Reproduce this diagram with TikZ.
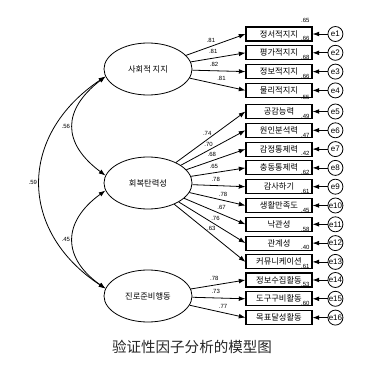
\documentclass[tikz,border=0pt]{standalone}
\usepackage{fontspec}
\setmainfont{Liberation Sans}
\newfontfamily\krfont{Noto Sans CJK KR}
\newfontfamily\zhfont{Noto Sans CJK SC}
\usetikzlibrary{arrows.meta,positioning,shapes.geometric}

\begin{document}
\begin{tikzpicture}[x=0.75pt,y=-0.75pt,>={Latex[length=5pt,width=3.6pt]},
    node distance=2.8pt,line width=0.6pt,
    latent/.style={draw,ellipse,minimum width=66pt,minimum height=39pt,inner sep=0pt,
      font=\krfont\fontsize{6.2}{7}\selectfont},
    item/.style={draw,line width=0.8pt,minimum width=49.5pt,minimum height=10.5pt,inner sep=0pt,
      font=\krfont\fontsize{6.2}{7}\selectfont},
    err/.style={draw,circle,minimum size=11.25pt,inner sep=0pt,font=\fontsize{6}{7}\selectfont},
    coef/.style={inner sep=0.8pt,font=\fontsize{4.5}{5}\selectfont},
    rsq/.style={coef,anchor=south east,inner sep=0pt}]
  \useasboundingbox (0,0) rectangle (380,368);

  % latent factors
  \node[latent] (soc) at (148,69)  {사회적 지지};
  \node[latent] (res) at (148,183) {회복탄력성};
  \node[latent] (car) at (148,296) {진로준비행동};

  % indicators
  \node[item] (b1) at (279,34) {정서적지지};
  \node[item,below=of b1] (b2) {평가적지지};
  \node[item,below=of b2] (b3) {정보적지지};
  \node[item,below=of b3] (b4) {물리적지지};
  \node[item] (b5) at (279,111.5) {공감능력};
  \node[item,below=of b5] (b6) {원인분석력};
  \node[item,below=of b6] (b7) {감정통제력};
  \node[item,below=of b7] (b8) {충동통제력};
  \node[item,below=of b8] (b9) {감사하기};
  \node[item,below=of b9] (b10) {생활만족도};
  \node[item,below=of b10] (b11) {낙관성};
  \node[item,below=of b11] (b12) {관계성};
  \node[item,below=of b12] (b13) {커뮤니케이션};
  \node[item] (b14) at (279,280) {정보수집활동};
  \node[item,below=of b14] (b15) {도구구비활동};
  \node[item,below=of b15] (b16) {목표달성활동};

  % errors
  \node[err,right=11.25pt of b1] (e1) {e1};
  \node[err,right=11.25pt of b2] (e2) {e2};
  \node[err,right=11.25pt of b3] (e3) {e3};
  \node[err,right=11.25pt of b4] (e4) {e4};
  \node[err,right=11.25pt of b5] (e5) {e5};
  \node[err,right=11.25pt of b6] (e6) {e6};
  \node[err,right=11.25pt of b7] (e7) {e7};
  \node[err,right=11.25pt of b8] (e8) {e8};
  \node[err,right=11.25pt of b9] (e9) {e9};
  \node[err,right=11.25pt of b10] (e10) {e10};
  \node[err,right=11.25pt of b11] (e11) {e11};
  \node[err,right=11.25pt of b12] (e12) {e12};
  \node[err,right=11.25pt of b13] (e13) {e13};
  \node[err,right=11.25pt of b14] (e14) {e14};
  \node[err,right=11.25pt of b15] (e15) {e15};
  \node[err,right=11.25pt of b16] (e16) {e16};

  % squared multiple correlations
  \node[rsq] (r1) at ([xshift=-2pt,yshift=3pt]b1.north east) {.65};
  \node[rsq] (r2) at ([xshift=-2pt,yshift=3pt]b2.north east) {.66};
  \node[rsq] (r3) at ([xshift=-2pt,yshift=3pt]b3.north east) {.68};
  \node[rsq] (r4) at ([xshift=-2pt,yshift=3pt]b4.north east) {.66};
  \node[rsq] (r5) at ([xshift=-2pt,yshift=3pt]b5.north east) {.55};
  \node[rsq] (r6) at ([xshift=-2pt,yshift=3pt]b6.north east) {.49};
  \node[rsq] (r7) at ([xshift=-2pt,yshift=3pt]b7.north east) {.47};
  \node[rsq] (r8) at ([xshift=-2pt,yshift=3pt]b8.north east) {.42};
  \node[rsq] (r9) at ([xshift=-2pt,yshift=3pt]b9.north east) {.62};
  \node[rsq] (r10) at ([xshift=-2pt,yshift=3pt]b10.north east) {.61};
  \node[rsq] (r11) at ([xshift=-2pt,yshift=3pt]b11.north east) {.45};
  \node[rsq] (r12) at ([xshift=-2pt,yshift=3pt]b12.north east) {.58};
  \node[rsq] (r13) at ([xshift=-2pt,yshift=3pt]b13.north east) {.40};
  \node[rsq] (r14) at ([xshift=-2pt,yshift=3pt]b14.north east) {.61};
  \node[rsq] (r15) at ([xshift=-2pt,yshift=3pt]b15.north east) {.53};
  \node[rsq] (r16) at ([xshift=-2pt,yshift=3pt]b16.north east) {.60};

  % loadings
  \draw[->] (soc) -- node[coef,pos=0.42,above=2pt]{.81} (b1.west);
  \draw[->] (soc) -- node[coef,pos=0.41,above=2pt]{.81} (b2.west);
  \draw[->] (soc) -- node[coef,pos=0.41,above=2pt]{.82} (b3.west);
  \draw[->] (soc) -- node[coef,pos=0.57,above=2pt]{.81} (b4.west);
  \draw[->] (res) -- node[coef,pos=0.45,above=2pt]{.74} (b5.west);
  \draw[->] (res) -- node[coef,pos=0.43,above=2pt]{.70} (b6.west);
  \draw[->] (res) -- node[coef,pos=0.43,above=2pt]{.68} (b7.west);
  \draw[->] (res) -- node[coef,pos=0.42,above=2pt]{.65} (b8.west);
  \draw[->] (res) -- node[coef,pos=0.44,above=2pt]{.78} (b9.west);
  \draw[->] (res) -- node[coef,pos=0.60,above=2pt]{.78} (b10.west);
  \draw[->] (res) -- node[coef,pos=0.61,above=2pt]{.67} (b11.west);
  \draw[->] (res) -- node[coef,pos=0.55,above=2pt]{.76} (b12.west);
  \draw[->] (res) -- node[coef,pos=0.52,above=2pt]{.63} (b13.west);
  \draw[->] (car) -- node[coef,pos=0.43,above=2pt]{.78} (b14.west);
  \draw[->] (car) -- node[coef,pos=0.44,above=2pt]{.73} (b15.west);
  \draw[->] (car) -- node[coef,pos=0.60,above=2pt]{.77} (b16.west);

  % error terms
  \draw[->] (e1) -- (b1);
  \draw[->] (e2) -- (b2);
  \draw[->] (e3) -- (b3);
  \draw[->] (e4) -- (b4);
  \draw[->] (e5) -- (b5);
  \draw[->] (e6) -- (b6);
  \draw[->] (e7) -- (b7);
  \draw[->] (e8) -- (b8);
  \draw[->] (e9) -- (b9);
  \draw[->] (e10) -- (b10);
  \draw[->] (e11) -- (b11);
  \draw[->] (e12) -- (b12);
  \draw[->] (e13) -- (b13);
  \draw[->] (e14) -- (b14);
  \draw[->] (e15) -- (b15);
  \draw[->] (e16) -- (b16);

  % covariances
  \draw[<->] (soc.190) .. controls (62,110) and (62,143) .. (res.170)
    node[coef,pos=0.5,left=1pt]{.56};
  \draw[<->] (res.190) .. controls (62,222) and (62,258) .. (car.170)
    node[coef,pos=0.5,left=1pt]{.45};
  \draw[<->] (soc.190) .. controls (18,135) and (18,231) .. (car.170)
    node[coef,pos=0.5,left=1pt]{.59};

  \node[font=\zhfont\fontsize{10.9}{12}\selectfont,text=black!85] (cap) at (192,347)
    {验证性因子分析的模型图};
\end{tikzpicture}
\end{document}
